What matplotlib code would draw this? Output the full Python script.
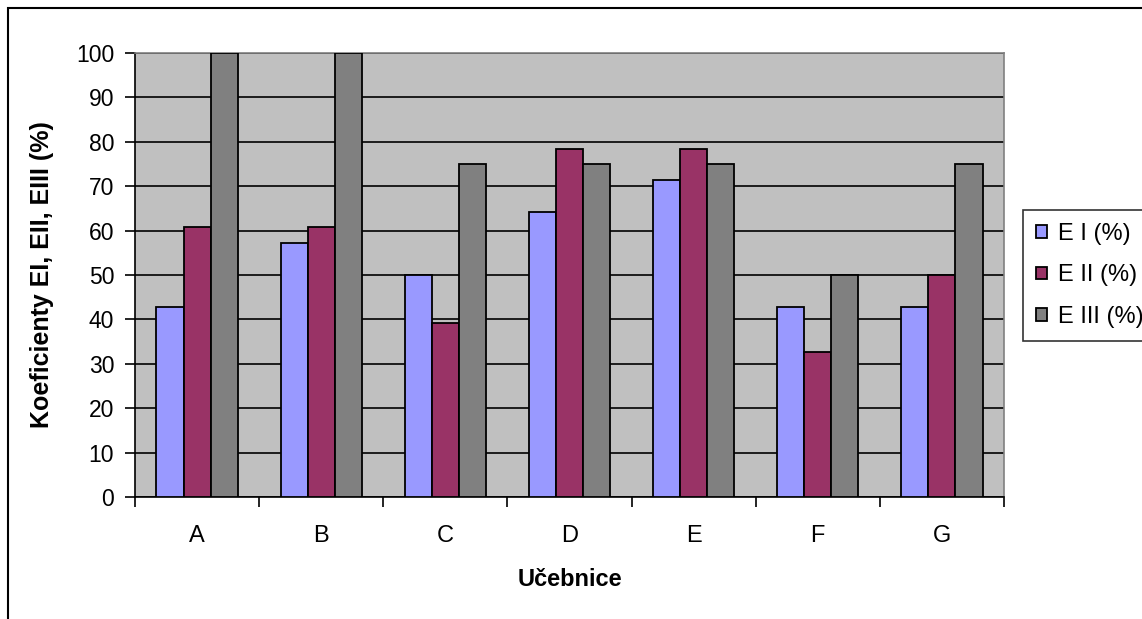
import numpy as np
import matplotlib
matplotlib.use("Agg")
import matplotlib.pyplot as plt
from matplotlib.patches import Rectangle

plt.rcParams['font.family'] = ['Liberation Sans', 'DejaVu Sans']

# donnees
ucebnice = ['A', 'B', 'C', 'D', 'E', 'F', 'G']
e1 = [42.9, 57.1, 50.0, 64.3, 71.4, 42.9, 42.9]
e2 = [60.9, 60.9, 39.1, 78.3, 78.3, 32.6, 50.0]
e3 = [100.0, 100.0, 75.0, 75.0, 75.0, 50.0, 75.0]
serie_labels = ['E I (%)', 'E II (%)', 'E III (%)']
serie_colors = ['#9999FF', '#993366', '#808080']

fig = plt.figure(figsize=(11.42, 6.19), dpi=100)
ax = fig.add_axes([135/1142, 1-497/619, (1004-135)/1142, (497-53)/619])
ax.set_facecolor('#C0C0C0')

pos = np.arange(len(ucebnice))
w = 0.218
for i, (vals, lab, col) in enumerate(zip([e1, e2, e3], serie_labels, serie_colors)):
    ax.bar(pos + (i-1)*w, vals, w, color=col, edgecolor='black', linewidth=1.3,
           label=lab, zorder=3)

ax.set_xlim(-0.5, len(ucebnice)-0.5)
ax.set_ylim(0, 100)
ax.set_yticks(np.arange(0, 101, 10))
ax.yaxis.grid(True, color='black', linewidth=1.2, zorder=1)
ax.set_axisbelow(True)

# ticks entre les groupes sur l'axe x
ax.set_xticks(np.arange(-0.5, len(ucebnice)), minor=False)
ax.set_xticklabels([])
ax.set_xticks(pos, minor=True)
ax.set_xticklabels(ucebnice, minor=True)
ax.tick_params(axis='x', which='major', length=7, width=1.2, direction='out')
ax.tick_params(axis='x', which='minor', length=0, pad=20, labelsize=17)
ax.tick_params(axis='y', length=7, width=1.2, direction='out', labelsize=16.5, pad=8)

for s in ['top', 'right']:
    ax.spines[s].set_color('#808080')
    ax.spines[s].set_linewidth(1.2)
for s in ['left', 'bottom']:
    ax.spines[s].set_color('black')
    ax.spines[s].set_linewidth(1.2)

ax.set_xlabel('Učebnice', fontsize=17, fontweight='bold', labelpad=15)
ax.set_ylabel('Koeficienty EI, EII, EIII (%)', fontsize=18, fontweight='bold', labelpad=16)

leg = ax.legend(loc='upper left', bbox_to_anchor=(1023/1142, 1-210/619),
                bbox_transform=fig.transFigure, fontsize=17, frameon=True,
                fancybox=False, edgecolor='black', handlelength=0.45, handleheight=0.45,
                handletextpad=0.5, borderpad=0.55, labelspacing=0.82, borderaxespad=0)
leg.get_frame().set_linewidth(1.2)

# cadre exterieur
fig.patches.append(Rectangle((8/1142, -0.05), 1.05, 1.05 - 8/619,
                             transform=fig.transFigure, fill=False,
                             edgecolor='black', linewidth=1.5, clip_on=False))

fig.savefig('out.png', dpi=100)
